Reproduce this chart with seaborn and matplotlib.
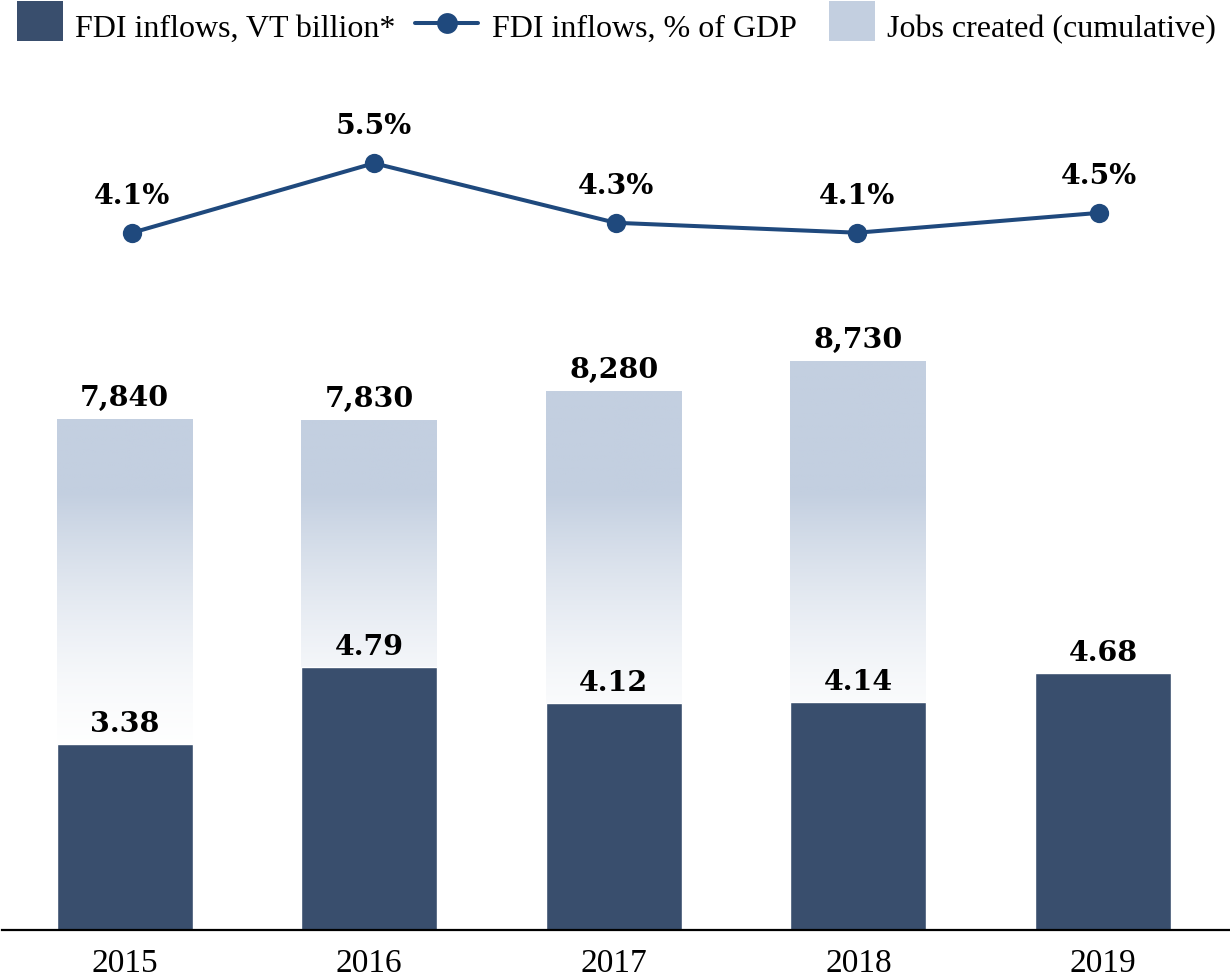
import numpy as np
import pandas as pd
import matplotlib
matplotlib.use("Agg")
import matplotlib.pyplot as plt
from matplotlib.patches import Rectangle
from matplotlib.lines import Line2D
from matplotlib.colors import to_rgb
import seaborn as sns

# ---- data ----
years = ["2015", "2016", "2017", "2018", "2019"]
fdi_bn = [3.38, 4.79, 4.12, 4.14, 4.68]             # FDI inflows, VT billion
fdi_pct_gdp = [4.1, 5.5, 4.3, 4.1, 4.5]            # FDI inflows, % of GDP
jobs_years = ["2015", "2016", "2017", "2018"]
jobs_cum = [7840, 7830, 8280, 8730]                # jobs created (cumulative)

legend_labels = ["FDI inflows, VT billion*", "FDI inflows, % of GDP",
                 "Jobs created (cumulative)"]

# ---- style ----
DARK = "#394e6d"
LIGHT = "#c3cfe0"
LINE = "#1f497d"
REG_FONT = ["Liberation Serif", "DejaVu Serif"]
BOLD_FONT = ["DejaVu Serif"]
LABEL_SIZE = 20.5

sns.set_theme(style="white")
plt.rcParams["font.family"] = REG_FONT

W, H = 1230, 980
fig = plt.figure(figsize=(W / 100, H / 100), dpi=100)


def rect_px(left, top, right, bottom):
    return [left / W, 1 - bottom / H, (right - left) / W, (bottom - top) / H]


AX_RECT = rect_px(2, 60, 1230, 929.5)

# three stacked layers sharing one frame: jobs (back), FDI bars, % line (front)
ax_jobs = fig.add_axes(AX_RECT, zorder=1)
ax_fdi = fig.add_axes(AX_RECT, zorder=2)
ax_line = fig.add_axes(AX_RECT, zorder=3)
for a in (ax_jobs, ax_fdi, ax_line):
    a.patch.set_visible(False)
    for s in a.spines.values():
        s.set_visible(False)

BAR_W = 0.556
BAR_XLIM = (-0.5016, 4.5188)
JOBS_TOP = 13361
FDI_TOP = 15.84

# jobs bars with vertical fade to white
sns.barplot(x=jobs_years, y=jobs_cum, ax=ax_jobs, color=LIGHT, saturation=1,
            width=BAR_W, order=jobs_years)

n = 800
vals = np.linspace(0, JOBS_TOP, n)
s = np.clip((vals - 2600) / (6700 - 2600), 0, 1)
t = (s ** 1.6)[:, None, None]
c = np.array(to_rgb(LIGHT))[None, None, :]
grad = 1 - t * (1 - c)

for p in list(ax_jobs.patches):
    x0, w = p.get_x(), p.get_width()
    p.set_facecolor("none")
    p.set_edgecolor("none")
    im = ax_jobs.imshow(grad, extent=[x0, x0 + w, 0, JOBS_TOP], origin="lower",
                        aspect="auto", interpolation="bilinear", zorder=1)
    im.set_clip_path(p)

ax_jobs.set_xlim(*BAR_XLIM)
ax_jobs.set_ylim(0, JOBS_TOP)
for i, v in enumerate(jobs_cum):
    ax_jobs.annotate(f"{v:,}", (i, v), xytext=(0, 9.4), textcoords="offset points",
                     ha="center", va="baseline", fontsize=LABEL_SIZE,
                     fontweight="bold", family=BOLD_FONT, color="black")
ax_jobs.set_xticks([])
ax_jobs.set_yticks([])
ax_jobs.set_xlabel("")
ax_jobs.set_ylabel("")

# FDI bars
sns.barplot(x=years, y=fdi_bn, ax=ax_fdi, color=DARK, saturation=1,
            width=BAR_W, order=years)
ax_fdi.set_xlim(*BAR_XLIM)
ax_fdi.set_ylim(0, FDI_TOP)
for i, v in enumerate(fdi_bn):
    ax_fdi.annotate(f"{v:.2f}", (i, v), xytext=(0, 8.6), textcoords="offset points",
                    ha="center", va="baseline", fontsize=LABEL_SIZE,
                    fontweight="bold", family=BOLD_FONT, color="black")
ax_fdi.spines["bottom"].set_visible(True)
ax_fdi.spines["bottom"].set_color("black")
ax_fdi.spines["bottom"].set_linewidth(1.6)
ax_fdi.set_yticks([])
ax_fdi.tick_params(axis="x", length=0, pad=14, labelsize=24, colors="black")
ax_fdi.set_xlabel("")
ax_fdi.set_ylabel("")

# % of GDP line
xs = np.arange(len(years))
sns.lineplot(x=xs, y=fdi_pct_gdp, ax=ax_line, color=LINE, linewidth=2.9,
             marker="o", markersize=13.9, markeredgewidth=0, markerfacecolor=LINE)
ax_line.set_xlim(-0.539, 4.542)
ax_line.set_ylim(-9.94, 7.58)
for i, v in enumerate(fdi_pct_gdp):
    ax_line.annotate(f"{v:.1f}%", (i, v), xytext=(0, 20.9), textcoords="offset points",
                     ha="center", va="baseline", fontsize=LABEL_SIZE,
                     fontweight="bold", family=BOLD_FONT, color="black")
ax_line.set_xticks([])
ax_line.set_yticks([])
ax_line.set_xlabel("")
ax_line.set_ylabel("")


# ---- legend row ----
def fx(px):
    return px / W


def fy(py):
    return 1 - py / H


fig.add_artist(Rectangle((fx(17), fy(41)), fx(63) - fx(17), (41 - 1) / H,
                         transform=fig.transFigure, facecolor=DARK, edgecolor="none"))
fig.text(fx(75), fy(37), legend_labels[0], fontsize=23, va="baseline", ha="left",
         color="black")

fig.add_artist(Line2D([fx(415), fx(478)], [fy(23), fy(23)], transform=fig.transFigure,
                      color=LINE, linewidth=2.9))
fig.add_artist(Line2D([fx(446.5)], [fy(23)], transform=fig.transFigure, color=LINE,
                      marker="o", markersize=15, markeredgewidth=0, linestyle="none"))
fig.text(fx(492), fy(37), legend_labels[1], fontsize=23, va="baseline", ha="left",
         color="black")

fig.add_artist(Rectangle((fx(829), fy(41)), fx(875) - fx(829), (41 - 1) / H,
                         transform=fig.transFigure, facecolor=LIGHT, edgecolor="none"))
fig.text(fx(887), fy(37), legend_labels[2], fontsize=23, va="baseline", ha="left",
         color="black")

fig.savefig("out.png", dpi=100, facecolor="white")
